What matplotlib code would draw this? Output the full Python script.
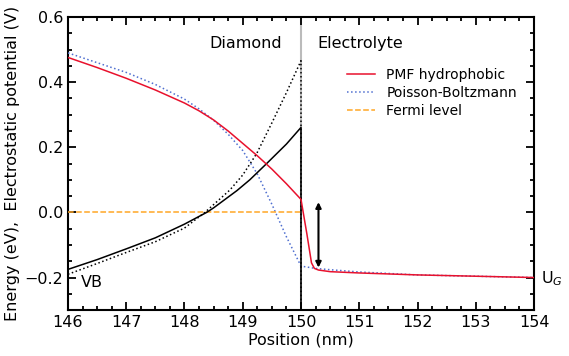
import matplotlib
matplotlib.use("Agg")
import matplotlib.pyplot as plt
from matplotlib.ticker import MultipleLocator

# PMF hydrophobic (red)
pmf_x = [146.0, 146.5, 147.0, 147.5, 148.0, 148.25, 148.5, 148.75, 149.0, 149.25, 149.5, 149.75, 150.0,
         150.1, 150.18, 150.23, 150.3, 150.5, 151.0, 152.0, 153.0, 154.0]
pmf_y = [0.476, 0.445, 0.412, 0.376, 0.336, 0.312, 0.284, 0.250, 0.212, 0.174, 0.133, 0.088, 0.040,
         -0.065, -0.155, -0.172, -0.177, -0.182, -0.186, -0.192, -0.196, -0.200]

# Poisson-Boltzmann (blue dotted)
pb_x = [146.0, 146.5, 147.0, 147.5, 148.0, 148.25, 148.5, 148.75, 149.0, 149.25, 149.5, 149.75, 150.0,
        150.25, 150.5, 151.0, 152.0, 153.0, 154.0]
pb_y = [0.490, 0.460, 0.430, 0.393, 0.348, 0.318, 0.283, 0.240, 0.190, 0.118, 0.025, -0.075, -0.165,
        -0.172, -0.176, -0.183, -0.192, -0.196, -0.200]

# band edge, PMF (black solid)
vb_x = [146.0, 146.5, 147.0, 147.5, 148.0, 148.38, 148.5, 148.9, 149.12, 149.41, 149.75, 150.0, 150.0]
vb_y = [-0.175, -0.145, -0.112, -0.078, -0.036, 0.0, 0.014, 0.067, 0.100, 0.150, 0.210, 0.261, -0.30]

# band edge, PB (black dotted)
vbpb_x = [146.0, 146.5, 147.0, 147.5, 148.0, 148.35, 148.78, 149.0, 149.24, 149.5, 149.75, 150.0, 150.0]
vbpb_y = [-0.190, -0.157, -0.123, -0.090, -0.048, 0.0, 0.069, 0.115, 0.181, 0.275, 0.368, 0.466, -0.30]

fermi_x = [146.0, 150.0]
fermi_y = [0.0, 0.0]

plt.rcParams['font.size'] = 11.5
fig = plt.figure(figsize=(5.69, 3.56), dpi=100)
ax = fig.add_axes([0.1195, 0.129, 0.819, 0.823])

ax.axvline(150.0, color='#bbbbbb', linewidth=1.5, zorder=1)
ax.plot(pmf_x, pmf_y, color='#e8112d', linewidth=1.1, label='PMF hydrophobic', zorder=4)
ax.plot(pb_x, pb_y, color='#4f6fd0', linestyle=':', linewidth=1.1, label='Poisson-Boltzmann', zorder=3)
ax.plot(fermi_x, fermi_y, color='#ffa726', linestyle='--', linewidth=1.1, label='Fermi level', zorder=3)
ax.plot(vb_x, vb_y, color='black', linewidth=1.1, zorder=3)
ax.plot(vbpb_x, vbpb_y, color='black', linestyle=':', linewidth=1.1, zorder=3)

ax.annotate('', xy=(150.3, -0.178), xytext=(150.3, 0.04),
            arrowprops=dict(arrowstyle='<|-|>', color='black', lw=1.5, mutation_scale=8))

ax.text(149.67, 0.52, 'Diamond', ha='right', va='center')
ax.text(150.28, 0.52, 'Electrolyte', ha='left', va='center')
ax.text(146.22, -0.215, 'VB', ha='left', va='center')
ax.text(154.12, -0.205, 'U$_G$', ha='left', va='center', clip_on=False)

ax.set_xlim(146, 154)
ax.set_ylim(-0.3, 0.6)
ax.xaxis.set_major_locator(MultipleLocator(1))
ax.xaxis.set_minor_locator(MultipleLocator(0.25))
ax.yaxis.set_major_locator(MultipleLocator(0.2))
ax.yaxis.set_minor_locator(MultipleLocator(0.05))
ax.tick_params(which='both', direction='in', top=True, right=True, width=1.3)
ax.tick_params(which='major', length=6)
ax.tick_params(which='minor', length=3)
for sp in ax.spines.values():
    sp.set_linewidth(1.5)

ax.set_xlabel('Position (nm)', labelpad=2)
ax.set_ylabel('Energy (eV),  Electrostatic potential (V)', labelpad=3)
ax.legend(loc='upper right', bbox_to_anchor=(0.99, 0.87), frameon=False, fontsize=10,
          handlelength=2.0, labelspacing=0.3)

fig.savefig('out.png', dpi=100)
